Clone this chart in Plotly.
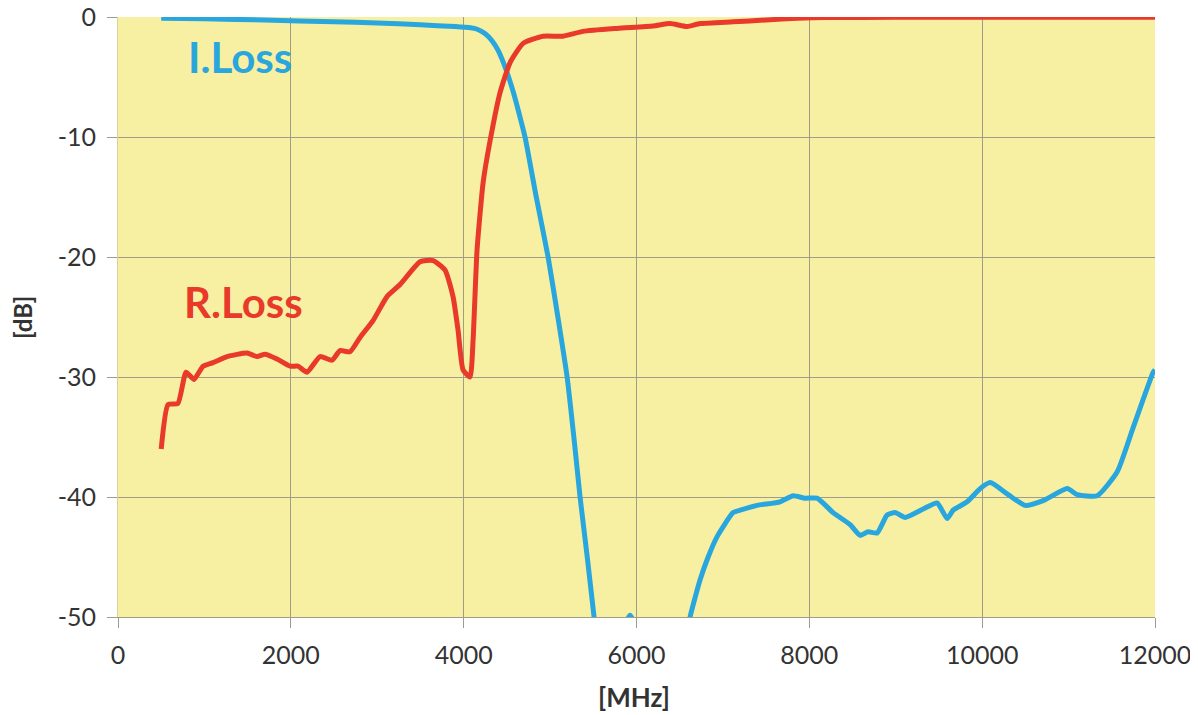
import plotly.graph_objects as go

# I.Loss (blue) — frequency [MHz], level [dB]
iloss_f = [500, 1000, 1700, 2500, 3000, 3500, 3900, 4080, 4150, 4250, 4330, 4400, 4460, 4520, 4580,
           4640, 4710, 4840, 4977, 5090, 5197, 5275, 5347, 5430, 5509, 5560, 5700, 5820, 5870,
           5925, 5980, 6100, 6300, 6500, 6580, 6620, 6736, 6829, 6933, 7118, 7199, 7396, 7662, 7813,
           7950, 8090, 8275, 8472, 8588, 8680, 8785, 8900, 8993, 9109, 9317, 9479, 9595, 9664, 9826,
           9977, 10093, 10301, 10498, 10706, 10984, 11100, 11331, 11563, 11748, 11979, 12000]
iloss_db = [-0.1, -0.15, -0.25, -0.4, -0.5, -0.65, -0.8, -0.9, -1.0, -1.4, -2.0, -2.8, -3.8, -5.0, -6.4,
            -8.0, -10.0, -15.0, -20.0, -25.0, -30.0, -35.0, -40.0, -45.0, -50.0, -53.0, -58.0, -53.0, -50.6,
            -49.85, -50.6, -56.0, -60.0, -56.0, -52.0, -50.0, -46.9, -45.0, -43.3, -41.3, -41.1, -40.7, -40.4, -39.9,
            -40.1, -40.1, -41.3, -42.3, -43.2, -42.9, -43.0, -41.5, -41.3, -41.7, -41.0, -40.5, -41.8, -41.1, -40.4,
            -39.3, -38.8, -39.8, -40.7, -40.3, -39.3, -39.8, -39.9, -37.9, -34.2, -29.6, -29.4]

# R.Loss (red)
rloss_f = [500, 579, 694, 787, 880, 984, 1100, 1262, 1493, 1609, 1701, 1840, 1991, 2083, 2187, 2338,
           2477, 2569, 2685, 2801, 2951, 3113, 3264, 3495, 3646, 3785, 3877, 3935, 3993, 4074, 4109,
           4155, 4225, 4306, 4421, 4537, 4688, 4919, 5150, 5382, 5775, 6192, 6389, 6586, 6736, 7118,
           7500, 7859, 8200, 9000, 10000, 11000, 12000]
rloss_db = [-36.0, -32.3, -32.2, -29.6, -30.2, -29.1, -28.8, -28.3, -28.0, -28.3, -28.1, -28.5, -29.1, -29.1, -29.6, -28.3,
            -28.6, -27.8, -27.9, -26.7, -25.3, -23.3, -22.3, -20.4, -20.3, -21.1, -23.3, -26.1, -29.4, -30.0, -26.9,
            -19.4, -13.8, -10.3, -6.3, -3.8, -2.2, -1.6, -1.6, -1.2, -0.95, -0.75, -0.55, -0.8, -0.55, -0.4,
            -0.25, -0.1, -0.05, -0.02, -0.02, -0.02, -0.02]

x_ticks = [0, 2000, 4000, 6000, 8000, 10000, 12000]
y_ticks = [0, -10, -20, -30, -40, -50]

BLUE = "#29A6DD"
RED = "#E8392B"
GRID = "#A09C88"
FONT = "Lato, 'Open Sans', sans-serif"

fig = go.Figure()
fig.add_trace(go.Scatter(x=iloss_f, y=iloss_db, mode="lines",
                         line=dict(color=BLUE, width=5, shape="spline", smoothing=0.5)))
fig.add_trace(go.Scatter(x=rloss_f, y=rloss_db, mode="lines",
                         line=dict(color=RED, width=5, shape="spline", smoothing=0.5)))

fig.add_annotation(x=1412, y=-3.3, text="<b>I.Loss</b>", showarrow=False,
                   font=dict(family=FONT, size=42, color=BLUE))
fig.add_annotation(x=1447, y=-23.75, text="<b>R.Loss</b>", showarrow=False,
                   font=dict(family=FONT, size=42, color=RED))

# axis titles
fig.add_annotation(xref="paper", yref="paper", x=0.4976, y=-0.1333, text="<b>[MHz]</b>",
                   xanchor="center", yanchor="middle",
                   showarrow=False, font=dict(family=FONT, size=26, color="#333333"))
fig.add_annotation(xref="paper", yref="paper", x=-0.0926, y=0.5, text="<b>[dB]</b>", textangle=-90,
                   xanchor="center", yanchor="middle",
                   showarrow=False, font=dict(family=FONT, size=24, color="#333333"))

fig.update_layout(
    width=1198, height=715,
    margin=dict(l=110, r=51, t=9, b=106),
    paper_bgcolor="white",
    plot_bgcolor="#F7F0A2",
    showlegend=False,
    font=dict(family=FONT, size=25, color="#333333"),
    xaxis=dict(range=[0, 12000], tickvals=x_ticks, ticktext=[str(v) for v in x_ticks],
               automargin=False, ticklabeloverflow="allow",
               showgrid=True, gridcolor=GRID, gridwidth=1, zeroline=False,
               showline=True, linecolor=GRID, linewidth=1, mirror=False,
               ticks="outside", ticklen=10, tickcolor=GRID, ticklabelstandoff=6),
    yaxis=dict(range=[-50, 0], tickvals=y_ticks, ticktext=[str(v) for v in y_ticks],
               automargin=False, ticklabeloverflow="allow",
               showgrid=True, gridcolor=GRID, gridwidth=1, zeroline=False,
               showline=True, linecolor="#D8D2A0", linewidth=1,
               ticks="outside", ticklen=10, tickcolor=GRID, ticklabelstandoff=6),
)

fig.write_html("out.html")
